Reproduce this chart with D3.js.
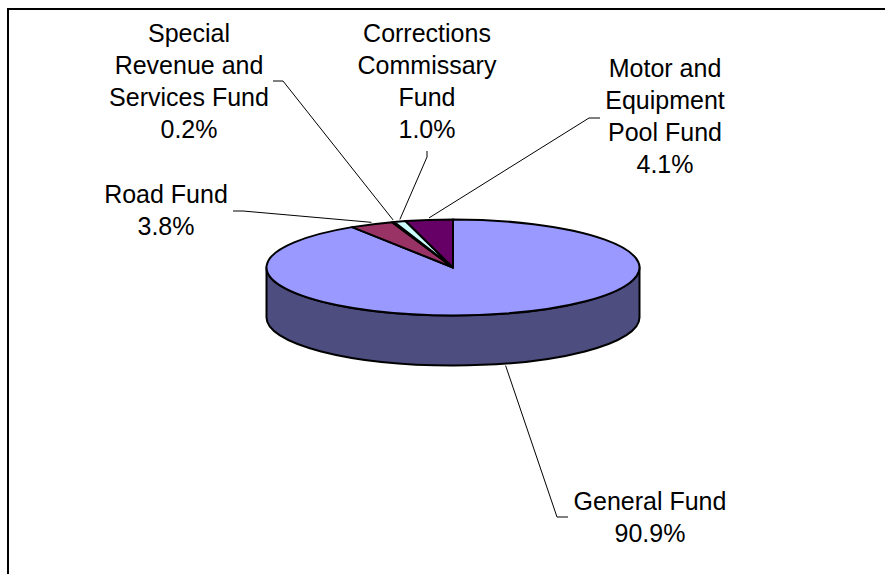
<!DOCTYPE html>
<meta charset="utf-8">

<style>
body { margin: 0; background: #fff; }

.label {
  font: 25px "Liberation Sans", Arial, sans-serif;
  fill: #000;
  text-anchor: middle;
}

.leader {
  fill: none;
  stroke: #000;
  stroke-width: 1px;
}

.slice, .side {
  stroke: #000;
  stroke-width: 2px;
  stroke-linejoin: round;
}
</style>

<svg width="885" height="574"></svg>
<script src="https://d3js.org/d3.v7.min.js"></script>

<script>
// data
var funds = ["General Fund", "Road Fund", "Special Revenue and Services Fund",
             "Corrections Commissary Fund", "Motor and Equipment Pool Fund"];
var shares = [90.9, 3.8, 0.2, 1.0, 4.1];
var labelLines = [
  ["General Fund"],
  ["Road Fund"],
  ["Special", "Revenue and", "Services Fund"],
  ["Corrections", "Commissary", "Fund"],
  ["Motor and", "Equipment", "Pool Fund"]
];

// layout (hand placed labels, like the original)
var colors = ["#9999ff", "#993366", "#ffffcc", "#ccffff", "#660066"];
var labelPos = [[650, 510], [166, 203], [189, 42], [427, 42], [665, 77]];
var leaderStart = [[568, 517], [233, 211], [273, 81], [427, 151], [600, 118]];
var leaderElbow = [[557, 517], [243, 211], [283, 81], [427, 157], [589, 118]];
var lineHeight = 32;

var svg = d3.select("svg");
var cx = 453, cy = 267.5, rx = 186.5, ry = 48, depth = 50;

// frame
svg.append("rect")
    .attr("x", 8).attr("y", 9)
    .attr("width", 900).attr("height", 600)
    .attr("fill", "none")
    .attr("stroke", "#000")
    .attr("stroke-width", 2);

var data = funds.map(function(f, i) { return {name: f, value: shares[i], i: i}; });

var pie = d3.pie()
    .sort(null)
    .value(function(d) { return d.value; });

var arcs = pie(data);

function pt(a, dy) {
  return [cx + rx * Math.sin(a), cy - ry * Math.cos(a) + (dy || 0)];
}

function darker(c) {
  var k = d3.rgb(c);
  return d3.rgb(k.r * 0.5, k.g * 0.5, k.b * 0.5).toString();
}

var g = svg.append("g");

// side walls (front half only)
arcs.forEach(function(d) {
  var s0 = Math.max(d.startAngle, Math.PI / 2),
      s1 = Math.min(d.endAngle, 3 * Math.PI / 2);
  if (s1 <= s0) return;
  var p0 = pt(s1), p1 = pt(s0), q0 = pt(s1, depth), q1 = pt(s0, depth);
  // go from right end (smaller angle) around the front to the left end
  var a = pt(s0), b = pt(s1), a2 = pt(s0, depth), b2 = pt(s1, depth);
  var path = "M" + a + " A" + rx + " " + ry + " 0 0 1 " + b +
             " L" + b2 + " A" + rx + " " + ry + " 0 0 0 " + a2 + " Z";
  g.append("path")
      .attr("class", "side")
      .attr("d", path)
      .attr("fill", darker(colors[d.data.i]));
});

// top faces
g.selectAll(".slice")
    .data(arcs)
  .enter().append("path")
    .attr("class", "slice")
    .attr("fill", function(d) { return colors[d.data.i]; })
    .attr("d", function(d) {
      var large = (d.endAngle - d.startAngle) > Math.PI ? 1 : 0;
      return "M" + cx + "," + cy + " L" + pt(d.startAngle) +
             " A" + rx + " " + ry + " 0 " + large + " 1 " + pt(d.endAngle) + " Z";
    });

// leader lines
g.selectAll(".leader")
    .data(arcs)
  .enter().append("polyline")
    .attr("class", "leader")
    .attr("points", function(d) {
      var i = d.data.i,
          mid = (d.startAngle + d.endAngle) / 2,
          front = Math.cos(mid) < 0,
          end = pt(mid, front ? depth + 2 : -2);
      return [leaderStart[i], leaderElbow[i], end].join(" ");
    });

// labels
var label = svg.selectAll(".label")
    .data(arcs)
  .enter().append("text")
    .attr("class", "label")
    .attr("x", function(d) { return labelPos[d.data.i][0]; })
    .attr("y", function(d) { return labelPos[d.data.i][1]; });

label.each(function(d) {
  var t = d3.select(this),
      lines = labelLines[d.data.i].concat([d3.format(".1f")(d.data.value) + "%"]);
  lines.forEach(function(s, k) {
    t.append("tspan")
        .attr("x", labelPos[d.data.i][0])
        .attr("dy", k === 0 ? 0 : lineHeight)
        .text(s);
  });
});
</script>
